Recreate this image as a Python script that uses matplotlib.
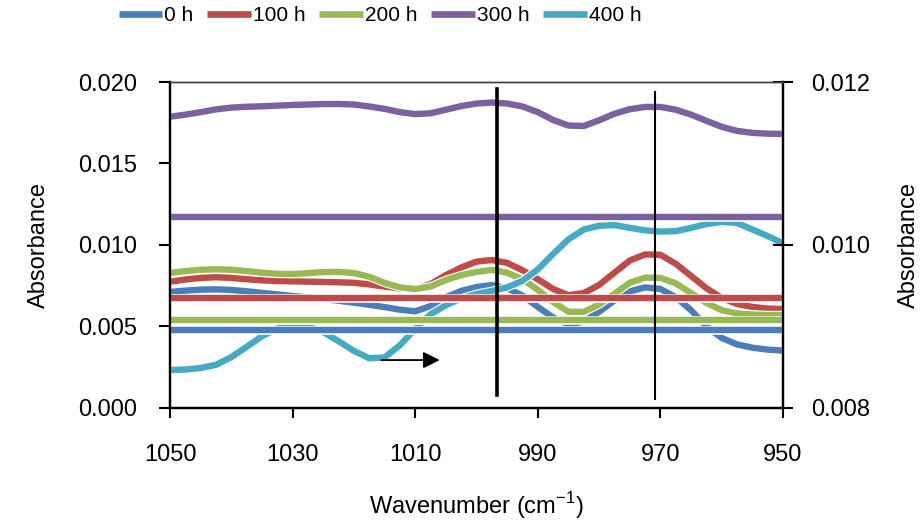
import matplotlib
matplotlib.use("Agg")
import matplotlib.pyplot as plt
import matplotlib.patheffects as pe

plt.rcParams['font.family'] = ['Liberation Sans', 'DejaVu Sans']

# wavenumber grid (cm-1), read every 2.5 cm-1
wavenumber = [1050 - 2.5 * i for i in range(41)]

abs_0h = [0.00712, 0.00720, 0.00726, 0.00728, 0.00724, 0.00716, 0.00706, 0.00697, 0.00687, 0.00678,
          0.00668, 0.00658, 0.00646, 0.00633, 0.00619, 0.00603, 0.00593, 0.00625, 0.00680, 0.00718,
          0.00742, 0.00754, 0.00735, 0.00690, 0.00620, 0.00555, 0.00512, 0.00530, 0.00590, 0.00660,
          0.00715, 0.00740, 0.00730, 0.00680, 0.00600, 0.00500, 0.00430, 0.00390, 0.00370, 0.00358,
          0.00352]
abs_100h = [0.00775, 0.00788, 0.00798, 0.00802, 0.00798, 0.00790, 0.00783, 0.00779, 0.00777, 0.00775,
            0.00773, 0.00771, 0.00768, 0.00758, 0.00745, 0.00733, 0.00730, 0.00760, 0.00815, 0.00862,
            0.00898, 0.00908, 0.00890, 0.00845, 0.00790, 0.00730, 0.00692, 0.00705, 0.00755, 0.00830,
            0.00905, 0.00942, 0.00940, 0.00885, 0.00810, 0.00735, 0.00675, 0.00638, 0.00620, 0.00610,
            0.00607]
abs_200h = [0.00828, 0.00840, 0.00848, 0.00851, 0.00848, 0.00840, 0.00830, 0.00823, 0.00822, 0.00827,
            0.00834, 0.00835, 0.00828, 0.00805, 0.00768, 0.00740, 0.00730, 0.00745, 0.00785, 0.00815,
            0.00835, 0.00847, 0.00830, 0.00790, 0.00725, 0.00650, 0.00590, 0.00590, 0.00635, 0.00700,
            0.00768, 0.00800, 0.00798, 0.00765, 0.00705, 0.00645, 0.00600, 0.00580, 0.00573, 0.00570,
            0.00570]
abs_300h = [0.01787, 0.01800, 0.01815, 0.01832, 0.01843, 0.01848, 0.01851, 0.01855, 0.01859, 0.01862,
            0.01865, 0.01865, 0.01862, 0.01850, 0.01835, 0.01815, 0.01803, 0.01808, 0.01830, 0.01852,
            0.01868, 0.01874, 0.01868, 0.01850, 0.01815, 0.01767, 0.01733, 0.01730, 0.01765, 0.01805,
            0.01833, 0.01847, 0.01847, 0.01830, 0.01800, 0.01762, 0.01725, 0.01700, 0.01688, 0.01683,
            0.01681]
abs_400h = [0.00233, 0.00236, 0.00245, 0.00265, 0.00312, 0.00375, 0.00440, 0.00488, 0.00508, 0.00500,
            0.00465, 0.00410, 0.00350, 0.00305, 0.00310, 0.00385, 0.00485, 0.00575, 0.00630, 0.00672,
            0.00700, 0.00718, 0.00740, 0.00780, 0.00850, 0.00945, 0.01035, 0.01095, 0.01118, 0.01122,
            0.01105, 0.01090, 0.01082, 0.01085, 0.01105, 0.01128, 0.01142, 0.01135, 0.01095, 0.01055,
            0.01010]

labels = ['0 h', '100 h', '200 h', '300 h', '400 h']
colors = ['#4a7ebb', '#be4b48', '#98b954', '#7d60a0', '#46aac5']

# flat reference levels (0 h, 100 h, 200 h, 300 h)
levels = [0.00479, 0.00677, 0.00540, 0.01174]

# marker lines at band positions
band_pos = [996.7, 970.9]
band_ymin = [0.0008, 0.00055]
band_ymax = [0.0196, 0.0194]
band_lw = [2.6, 1.5]

arrow_from = (1015.5, 0.00294)
arrow_to = (1006.0, 0.00294)

fig = plt.figure(figsize=(9.24, 5.25), dpi=100)
ax = fig.add_axes([0.184, 0.2229, 0.6634, 0.6209])
ax2 = ax.twinx()

LW = 4.6
glow = [pe.Stroke(linewidth=LW + 1.6, foreground='white'), pe.Normal()]
series = [abs_0h, abs_100h, abs_200h, abs_300h, abs_400h]
for vals, lab, col in zip(series, labels, colors):
    ax.plot(wavenumber, vals, color=col, lw=LW, label=lab,
            solid_capstyle='butt', solid_joinstyle='round', path_effects=glow, zorder=3)

for lev, col in zip(levels, colors):
    ax.plot([1050, 950], [lev, lev], color=col, lw=LW,
            solid_capstyle='butt', path_effects=glow, zorder=4)

for xp, y0, y1, lw in zip(band_pos, band_ymin, band_ymax, band_lw):
    ax.plot([xp, xp], [y0, y1], color='black', lw=lw, zorder=5)

ax.annotate('', xy=arrow_to, xytext=arrow_from,
            arrowprops=dict(arrowstyle='-|>', color='black', lw=1.3,
                            mutation_scale=25, shrinkA=0, shrinkB=0), zorder=6)

ax.set_xlim(1050, 950)
ax.set_ylim(0, 0.020)
ax.set_xticks([1050, 1030, 1010, 990, 970, 950])
ax.set_yticks([0, 0.005, 0.010, 0.015, 0.020])
ax.set_yticklabels(['0.000', '0.005', '0.010', '0.015', '0.020'])
ax2.set_ylim(0.008, 0.012)
ax2.set_yticks([0.008, 0.010, 0.012])
ax2.set_yticklabels(['0.008', '0.010', '0.012'])

ax.tick_params(axis='x', direction='out', length=7, width=1.5, pad=19, labelsize=17)
ax.tick_params(axis='y', direction='out', length=8, width=1.5, pad=16, labelsize=17)
ax2.tick_params(axis='y', direction='inout', length=14, width=1.5, pad=13, labelsize=17)

for a in (ax, ax2):
    for side in ('left', 'right', 'bottom'):
        a.spines[side].set_linewidth(1.6)
    a.spines['top'].set_linewidth(1.0)
    a.spines['top'].set_color('#404040')

ax.set_xlabel('Wavenumber (cm$^{\\mathregular{-1}}$)', fontsize=17, labelpad=17)
ax.set_ylabel('Absorbance', fontsize=17, labelpad=20)
ax2.set_ylabel('Absorbance', fontsize=17, labelpad=20)

leg = fig.legend(loc='upper left', bbox_to_anchor=(0.108, 1.024), ncol=5, frameon=False,
                 fontsize=15, handlelength=2.1, handletextpad=0.1, columnspacing=0.65)
for h in leg.get_lines():
    h.set_linewidth(4.8)

fig.savefig('out.png', dpi=100)
